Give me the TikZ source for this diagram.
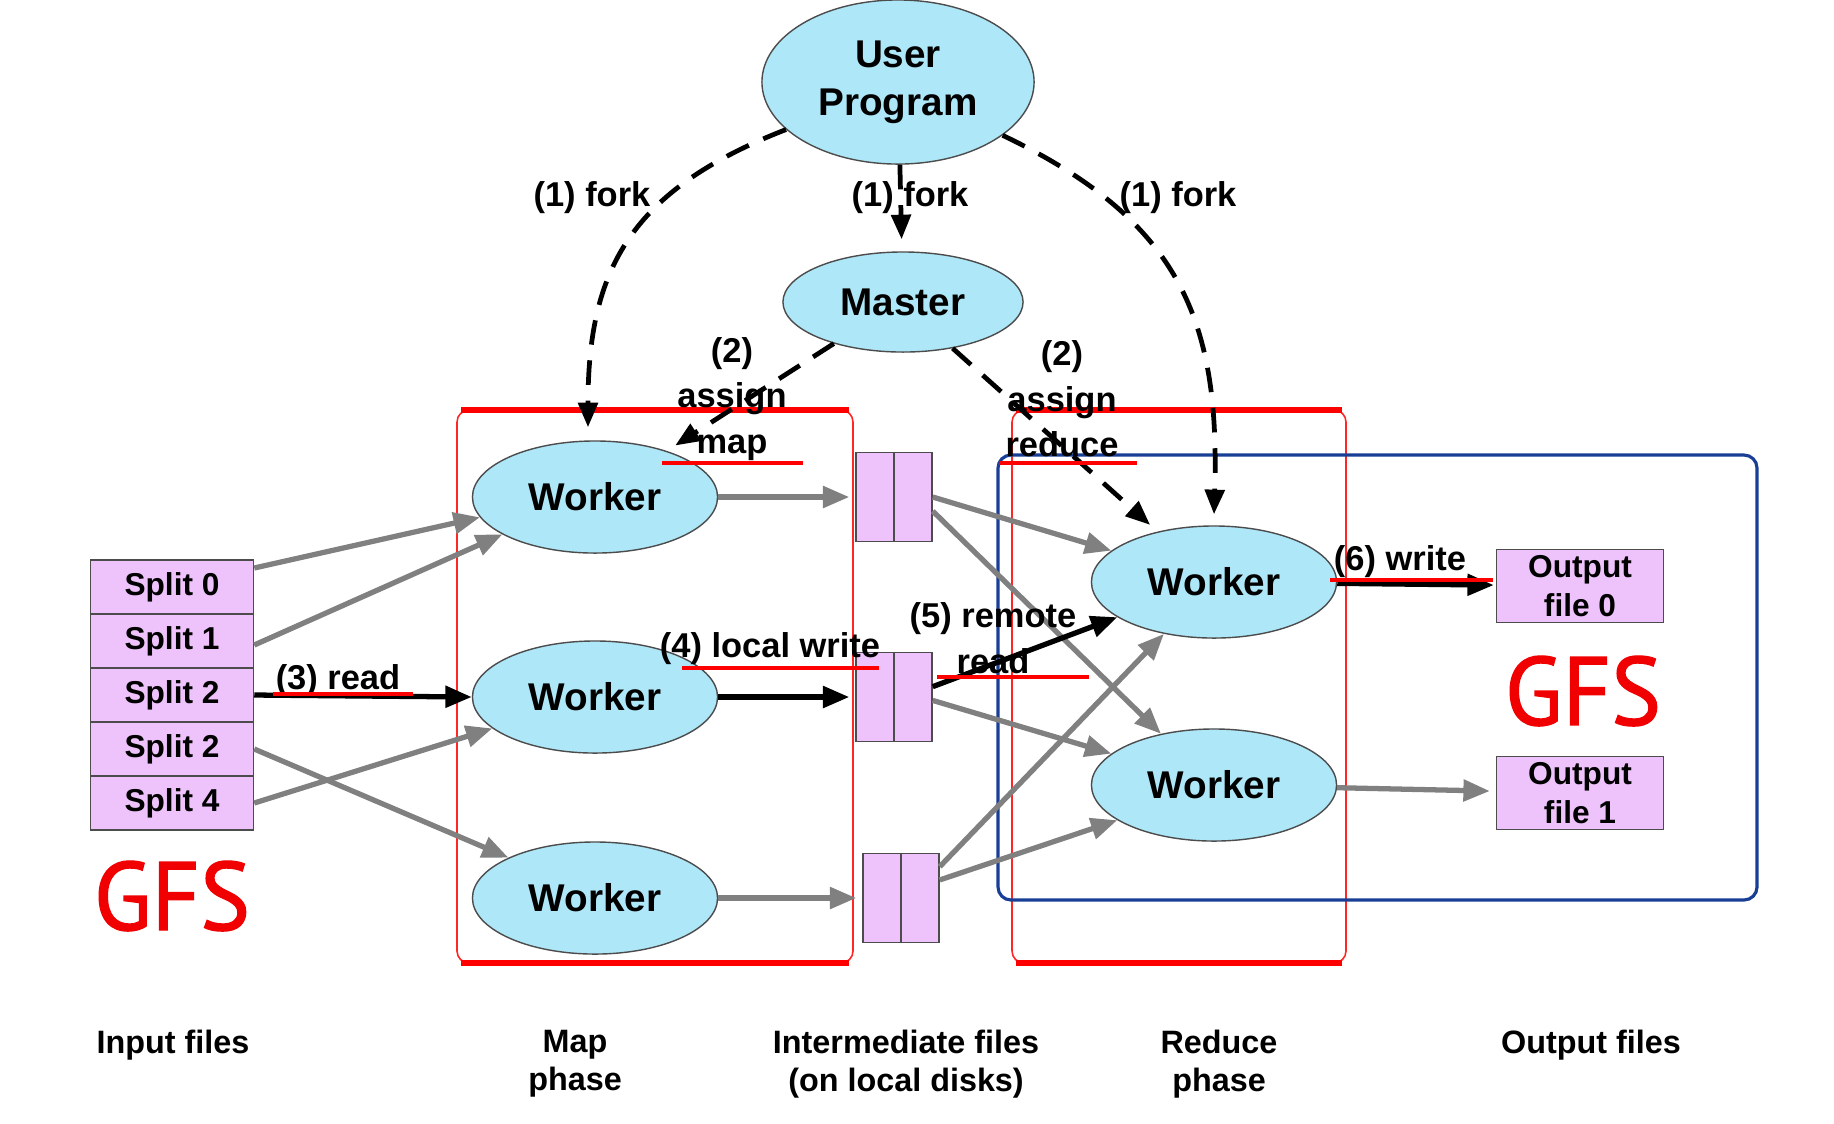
\documentclass[tikz,border=0pt]{standalone}
\usepackage{fontspec}
\setmainfont{Liberation Sans}
\newfontfamily\gfsfont{PT Sans}[FakeStretch=0.97,FakeBold=1.3]
\usetikzlibrary{arrows.meta,shapes.geometric}

\definecolor{cellblue}{RGB}{174,232,248}
\definecolor{filepink}{RGB}{238,194,250}
\definecolor{gfsred}{RGB}{240,0,0}
\definecolor{gfsblue}{RGB}{24,62,150}
\definecolor{arrowgray}{RGB}{128,128,128}

\tikzset{
  worker/.style={draw=black!70,fill=cellblue,ellipse,inner sep=0pt,
    minimum width=2.45cm,minimum height=1.12cm,
    font=\fontsize{11}{13.7}\selectfont\bfseries,align=center},
  split/.style={draw=black!70,fill=filepink,inner sep=0pt,
    minimum width=1.63cm,minimum height=0.54cm,
    font=\fontsize{9}{11}\selectfont\bfseries,align=center},
  interfile/.style={draw=black!70,fill=filepink,inner sep=0pt,
    minimum width=0.76cm,minimum height=0.89cm},
  note/.style={font=\fontsize{9.8}{12.9}\selectfont\bfseries,align=center,inner sep=0pt},
  phasename/.style={font=\fontsize{9.2}{10.8}\selectfont\bfseries,align=center,inner sep=0pt},
  gfs/.style={font=\gfsfont\fontsize{27.6}{30}\selectfont,text=gfsred,inner sep=0pt},
  fork/.style={-{Triangle[length=7pt,width=5.5pt]},line width=1.35pt,
    dash pattern=on 7pt off 4.5pt},
  grayarrow/.style={-{Triangle[length=7.5pt,width=6pt]},line width=1.5pt,arrowgray},
  blackarrow/.style={-{Triangle[length=7.5pt,width=6pt]},line width=1.5pt},
  redline/.style={red,line width=1.2pt},
  phase/.style={red!85,line width=0.45pt,rounded corners=0.12cm},
  phaseedge/.style={red,line width=1.6pt}
}

\begin{document}
\begin{tikzpicture}[x=0.01cm,y=-0.01cm]
\useasboundingbox (0,0) rectangle (1834,1123);

% phase frames
\draw[phase] (457,410) rectangle (853,963);
\draw[phaseedge] (461,410) -- (849,410);
\draw[phaseedge] (461,963) -- (849,963);
\draw[phase] (1012,410) rectangle (1346,963);
\draw[phaseedge] (1016,410) -- (1342,410);
\draw[phaseedge] (1016,963) -- (1342,963);
\draw[gfsblue,line width=0.9pt,rounded corners=0.13cm] (998,455) rectangle (1757,900);

% nodes
\node[worker,minimum width=2.72cm,minimum height=1.64cm] (up) at (898,82) {User\\Program};
\node[worker,minimum width=2.40cm,minimum height=1.00cm] (master) at (903,302) {Master};

\foreach \t [count=\i from 0] in {Split 0,Split 1,Split 2,Split 2,Split 4}
  \node[split] (s\i) at (172,{587+54*\i}) {\t};

\foreach \y [count=\i] in {497,697,898}
  \node[worker] (w\i) at (595,\y) {Worker};

\node[interfile] (f1) at (894,497) {};
\node[interfile] (f2) at (894,697) {};
\node[interfile] (f3) at (901,898) {};
\foreach \i in {1,2,3}
  \draw[black!70] (f\i.north) -- (f\i.south);

\node[worker] (r1) at (1214,582) {Worker};
\node[worker] (r2) at (1214,785) {Worker};

\node[split,minimum width=1.67cm,minimum height=0.73cm] (out0) at (1580,586) {Output\\file 0};
\node[split,minimum width=1.67cm,minimum height=0.73cm] (out1) at (1580,793) {Output\\file 1};

\node[gfs] (gfsin) at (172,896) {GFS};
\node[gfs] (gfsout) at (1583,691) {GFS};

% fork and assign
\draw[fork] (up.203) .. controls (630,190) and (588,270) .. ([xshift=-0.07cm,yshift=0.13cm]w1.north);
\draw[fork,shorten >=0.12cm] (up) -- (master);
\draw[fork] (up.333) .. controls (1180,220) and (1220,320) .. ([yshift=0.11cm]r1.north);
\draw[fork,shorten >=0.1cm] (master.211) -- (w1);
\draw[fork,shorten >=0.1cm] (master.317) -- (r1);

% input splits to map workers
\draw[grayarrow] ([yshift=0.19cm]s0.east) -- (w1.190);
\draw[grayarrow] ([yshift=-0.04cm]s1.east) -- (w1.202);
\draw[blackarrow] (s2.east) -- (w2.west);
\draw[grayarrow] (s3.east) -- (w3.155);
\draw[grayarrow] (s4.east) -- (w2.197);

% map workers to local files
\draw[grayarrow,shorten >=0.06cm] (w1.east) -- (f1.west);
\draw[blackarrow,shorten >=0.06cm] (w2.east) -- (f2.west);
\draw[grayarrow,shorten >=0.06cm] (w3.east) -- (f3.west);

% local files to reduce workers
\draw[grayarrow] (f1.east) -- (r1.163);
\draw[grayarrow] (f1.340) -- (r2.136);
\draw[blackarrow] (f2.15) -- (r1.200);
\draw[grayarrow] (f2.355) -- (r2.163);
\draw[grayarrow] (f3.39) -- (r1.226);
\draw[grayarrow] (f3.25) -- (r2.200);

% reduce workers to output
\draw[blackarrow,shorten >=0.02cm] (r1) -- (out0);
\draw[grayarrow,shorten >=0.06cm] (r2) -- (out1);

% labels
\node[note] (lfork1) at (592,198) {(1) fork};
\node[note] (lfork2) at (910,198) {(1) fork};
\node[note] (lfork3) at (1178,198) {(1) fork};
\node[note] (lmap) at (732,399) {(2)\\assign\\map};
\node[note] (lreduce) at (1062,399) {(2)\\assign\\reduce};
\node[note] (lread) at (338,681) {(3) read};
\node[note] (lwrite) at (770,649) {(4) local write};
\node[note] (lremote) at (993,638) {(5) remote\\read};
\node[note] (lout) at (1400,562) {(6) write};

% red marks
\draw[redline] (273,694) -- (413,694);
\draw[redline] (682,668) -- (879,668);
\draw[redline] (937,677) -- (1089,677);
\draw[redline] (1330,580) -- (1493,580);
\draw[redline] (662,463) -- (803,463);
\draw[redline] (999,463) -- (1137,463);

% bottom names
\node[phasename] (ninput) at (173,1045) {Input files};
\node[phasename] (nmap) at (575,1064) {Map\\phase};
\node[phasename] (ninter) at (906,1064) {Intermediate files\\(on local disks)};
\node[phasename] (nreduce) at (1219,1064) {Reduce\\phase};
\node[phasename] (noutput) at (1591,1045) {Output files};
\end{tikzpicture}
\end{document}
